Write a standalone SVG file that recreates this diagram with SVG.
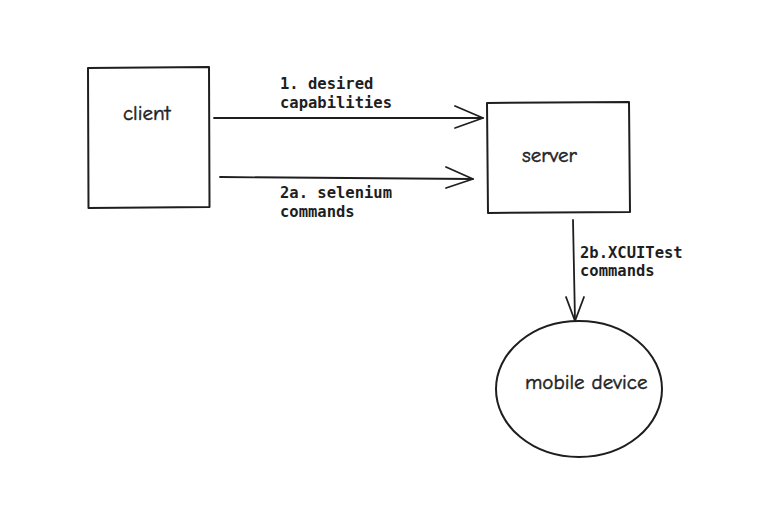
<svg xmlns="http://www.w3.org/2000/svg" width="781" height="524" viewBox="0 0 781 524">
<style>
.box{fill:none;stroke:#1e1e1e;stroke-width:2;stroke-linecap:round;stroke-linejoin:round}
.ln{fill:none;stroke:#1e1e1e;stroke-width:1.8;stroke-linecap:round;stroke-linejoin:round}
.hand{font-family:"Comic Neue","Liberation Sans",sans-serif;font-size:21px;fill:#1e1e1e;stroke:#1e1e1e;stroke-width:0.5}
.mono{font-family:"DejaVu Sans Mono","Liberation Mono",monospace;font-size:15.5px;font-weight:bold;fill:#1e1e1e}
</style>
<rect width="781" height="524" fill="#ffffff"/>
<g id="client">
<path class="box" d="M88 68 L209 67 L209.5 207 L88.5 208 Z"/>
<text class="hand" x="123" y="120">client</text>
</g>
<g id="server">
<path class="box" d="M487 103 L629 102 L630 212 L488 213 Z"/>
<text class="hand" x="522" y="162">server</text>
</g>
<g id="mobile-device">
<ellipse class="box" cx="579" cy="389" rx="83" ry="68"/>
<text class="hand" x="525" y="389">mobile device</text>
</g>
<g id="connectors">
<path class="ln" d="M214 118 L483 118"/>
<path class="ln" d="M455 106 L483 118 L455 128"/>
<path class="ln" d="M220 177 L473 179"/>
<path class="ln" d="M446 167 L473 179 L446 188"/>
<path class="ln" d="M573 220 L575 321"/>
<path class="ln" d="M566 297 L575 321 L584 297"/>
<text class="mono" x="280" y="89">1. desired</text>
<text class="mono" x="280" y="108">capabilities</text>
<text class="mono" x="280" y="198">2a. selenium</text>
<text class="mono" x="280" y="217">commands</text>
<text class="mono" x="580" y="258">2b.XCUITest</text>
<text class="mono" x="580" y="276">commands</text>
</g>
</svg>
